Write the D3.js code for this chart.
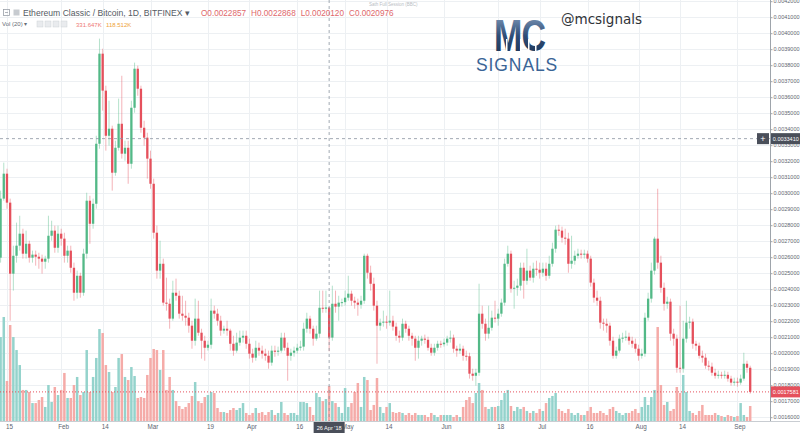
<!DOCTYPE html>
<html>
<head>
<meta charset="utf-8">
<script src="https://cdn.jsdelivr.net/npm/d3@7"></script>
<style>
  body { margin: 0; background: #fff; }
  svg { display: block; font-family: "Liberation Sans", Arial, sans-serif; }
</style>
</head>
<body>
<svg id="canvas" width="800" height="433"></svg>
<script>
/*
 * ETC/BTC daily candles (Bitfinex), 12 Jan 2018 - 5 Sep 2018, drawn with D3.
 */

// ---- data -------------------------------------------------------------
const firstDay = [2018, 0, 12];
const firstOpen = 0.002547;

const closes = [
  0.002597,0.002966,0.003122,0.002941,0.002497,0.002609,0.002672,0.002747,0.002622,0.002684,
  0.002597,0.002616,0.002603,0.002591,0.002572,0.002591,0.002734,0.002766,0.002659,0.002747,
  0.002716,0.002609,0.002641,0.002534,0.002378,0.002484,0.002378,0.002622,0.002953,0.002809,
  0.002934,0.003309,0.003872,0.003641,0.003359,0.003403,0.003128,0.003284,0.003434,0.003247,
  0.003284,0.003184,0.003534,0.003778,0.003653,0.003409,0.003347,0.003216,0.003059,0.002753,
  0.002516,0.002559,0.002316,0.002309,0.002216,0.002378,0.002359,0.002247,0.002234,0.002222,
  0.002172,0.002078,0.002216,0.002128,0.002078,0.002034,0.002053,0.002266,0.002247,0.002203,
  0.002141,0.002153,0.002141,0.002059,0.002016,0.002066,0.002097,0.002109,0.002059,0.001997,
  0.001972,0.002034,0.002016,0.001997,0.001984,0.001941,0.002016,0.002009,0.002016,0.002097,
  0.002034,0.001984,0.002003,0.002016,0.002034,0.002041,0.002153,0.002216,0.002153,0.002091,
  0.002122,0.002284,0.002278,0.0022857,0.0020976,0.002309,0.002291,0.002316,0.002319,0.002347,
  0.002372,0.002328,0.002316,0.002303,0.002328,0.002609,0.002503,0.002434,0.002297,0.002172,
  0.002191,0.002197,0.002191,0.002203,0.002166,0.002109,0.002097,0.002184,0.002153,0.002109,
  0.002091,0.002034,0.002078,0.002091,0.002084,0.002034,0.002003,0.002034,0.002059,0.002056,
  0.002066,0.002091,0.002097,0.002028,0.002016,0.002028,0.001984,0.001981,0.001872,0.001859,
  0.001878,0.002247,0.002184,0.002122,0.002159,0.002222,0.002216,0.002247,0.002316,0.002559,
  0.002622,0.002403,0.002409,0.002422,0.002534,0.002453,0.002516,0.002472,0.002528,0.002522,
  0.002503,0.002528,0.002484,0.002559,0.002653,0.002772,0.002766,0.002722,0.002716,0.002559,
  0.002578,0.002609,0.002622,0.002616,0.002622,0.002591,0.002441,0.002347,0.002328,0.002191,
  0.002184,0.002172,0.002078,0.001984,0.002016,0.002091,0.002097,0.002103,0.002078,0.002059,
  0.002028,0.001984,0.001997,0.002222,0.002341,0.002516,0.002716,0.002566,0.002409,0.002309,
  0.002322,0.002122,0.002091,0.001909,0.001903,0.002091,0.002191,0.002197,0.002059,0.002047,
  0.001984,0.001972,0.001922,0.001916,0.001878,0.001859,0.001865,0.001859,0.001865,0.001841,
  0.001816,0.001822,0.001816,0.001841,0.001934,0.001909,0.0017581
];

const highs = [
  0.002641,0.003016,0.003191,0.003153,0.002966,0.002672,0.002816,0.002859,0.002778,0.002766,
  0.002703,0.002641,0.002641,0.002628,0.002616,0.002609,0.002859,0.002828,0.002797,0.002797,
  0.002778,0.002753,0.002672,0.002672,0.002566,0.002516,0.002503,0.002653,0.003003,0.002984,
  0.002966,0.003359,0.003966,0.003903,0.003672,0.003578,0.003422,0.003328,0.003591,0.003734,
  0.003328,0.003328,0.003578,0.003816,0.003797,0.003672,0.003453,0.003378,0.003266,0.003091,
  0.002797,0.002703,0.002591,0.002472,0.002341,0.002453,0.002466,0.002391,0.002359,0.002328,
  0.002253,0.002203,0.002341,0.002328,0.002153,0.002109,0.002078,0.002341,0.002297,0.002278,
  0.002234,0.002172,0.002203,0.002153,0.002109,0.002128,0.002141,0.002141,0.002141,0.002091,
  0.002028,0.002078,0.002066,0.002047,0.002028,0.002016,0.002047,0.002047,0.002041,0.002128,
  0.002128,0.002066,0.002028,0.002041,0.002059,0.002078,0.002191,0.002253,0.002234,0.002172,
  0.002172,0.002391,0.002391,0.002391,0.0022868,0.002422,0.002391,0.002359,0.002341,0.002391,
  0.002484,0.002391,0.002353,0.002341,0.002359,0.002622,0.002622,0.002547,0.002472,0.002328,
  0.002216,0.002266,0.002234,0.002391,0.002234,0.002191,0.002141,0.002216,0.002203,0.002172,
  0.002128,0.002109,0.002109,0.002109,0.002116,0.002103,0.002059,0.002059,0.002078,0.002078,
  0.002091,0.002109,0.002141,0.002116,0.002047,0.002059,0.002047,0.002016,0.002003,0.001903,
  0.001903,0.002434,0.002297,0.002216,0.002297,0.002266,0.002328,0.002278,0.002341,0.002591,
  0.002672,0.002641,0.002453,0.002466,0.002566,0.002566,0.002653,0.002547,0.002566,0.002578,
  0.002566,0.002566,0.002566,0.002609,0.002691,0.002797,0.002803,0.002791,0.002778,0.002753,
  0.002734,0.002641,0.002653,0.002647,0.002647,0.002641,0.002609,0.002466,0.002391,0.002353,
  0.002216,0.002216,0.002191,0.002103,0.002041,0.002116,0.002128,0.002141,0.002128,0.002103,
  0.002091,0.002053,0.002028,0.002253,0.002378,0.002566,0.002728,0.003028,0.002609,0.002441,
  0.002353,0.002341,0.002153,0.002116,0.002297,0.002203,0.002328,0.002228,0.002216,0.002078,
  0.002066,0.002016,0.001997,0.001953,0.001941,0.001903,0.001891,0.001884,0.001891,0.001884,
  0.001859,0.001847,0.001847,0.001866,0.002003,0.001953,0.001922
];

const lows = [
  0.002503,0.002566,0.002953,0.002903,0.002203,0.002391,0.002566,0.002641,0.002591,0.002591,
  0.002566,0.002566,0.002547,0.002528,0.002497,0.002528,0.002566,0.002703,0.002628,0.002628,
  0.002672,0.002566,0.002566,0.002503,0.002328,0.002341,0.002347,0.002359,0.002591,0.002684,
  0.002778,0.002903,0.003278,0.003516,0.003266,0.003297,0.003016,0.003109,0.003266,0.003216,
  0.003203,0.003059,0.003153,0.003503,0.003609,0.003378,0.003297,0.003091,0.003028,0.002716,
  0.002466,0.002466,0.002297,0.002266,0.002153,0.002203,0.002328,0.002216,0.002203,0.002172,
  0.002128,0.002028,0.002047,0.002109,0.001966,0.001953,0.002016,0.002028,0.002216,0.002172,
  0.002109,0.002122,0.002109,0.002016,0.001984,0.002003,0.002047,0.002066,0.002028,0.001966,
  0.001941,0.001953,0.001984,0.001966,0.001953,0.001903,0.001922,0.001978,0.001984,0.002003,
  0.002016,0.001828,0.001953,0.001978,0.001997,0.002016,0.002016,0.002128,0.002122,0.002047,
  0.002078,0.002097,0.002253,0.002253,0.0020120,0.002078,0.002253,0.002203,0.002291,0.002297,
  0.002328,0.002297,0.002278,0.002234,0.002278,0.002309,0.002466,0.002391,0.002266,0.001934,
  0.002141,0.002166,0.002153,0.002172,0.002141,0.002078,0.002066,0.002078,0.002128,0.002078,
  0.002047,0.001953,0.001966,0.002047,0.002059,0.002016,0.001984,0.001984,0.002016,0.002034,
  0.002041,0.002047,0.002066,0.002003,0.001978,0.001997,0.001953,0.001953,0.001841,0.001828,
  0.001797,0.001859,0.002153,0.002078,0.002091,0.002141,0.002191,0.002172,0.002228,0.002297,
  0.002541,0.002378,0.002278,0.002359,0.002391,0.002341,0.002428,0.002453,0.002441,0.002484,
  0.002466,0.002478,0.002453,0.002466,0.002541,0.002628,0.002734,0.002691,0.002678,0.002503,
  0.002528,0.002553,0.002591,0.002591,0.002591,0.002566,0.002416,0.002316,0.002297,0.002153,
  0.002141,0.002128,0.002047,0.001966,0.001966,0.002003,0.002066,0.002078,0.002053,0.002034,
  0.002003,0.001953,0.001966,0.001978,0.002203,0.002316,0.002491,0.002528,0.002378,0.002266,
  0.002278,0.002078,0.002047,0.001878,0.001878,0.001878,0.002066,0.002153,0.002028,0.002016,
  0.001966,0.001941,0.001903,0.001891,0.001859,0.001841,0.001841,0.001841,0.001841,0.001822,
  0.001797,0.001797,0.001791,0.001803,0.001828,0.001878,0.001747
];

// volume in thousands
const volumesK = [
  663,795,985,379,909,795,672,530,294,294,
  275,170,170,199,227,133,341,180,322,246,
  294,455,218,218,341,417,246,275,672,275,
  417,597,871,833,530,464,275,322,597,634,
  417,388,511,426,218,227,218,436,597,682,
  672,483,672,294,417,294,189,142,114,133,
  170,237,369,189,170,227,246,275,265,123,
  85,85,76,104,123,104,123,170,76,57,
  76,123,76,85,57,85,104,57,76,180,
  76,57,76,76,57,180,180,170,133,57,
  265,227,189,208,331.647,189,170,133,76,312,
  133,170,275,360,133,417,388,104,152,407,
  133,76,133,170,85,76,85,76,57,76,
  57,76,57,57,57,38,76,57,38,57,
  57,57,57,38,57,38,133,199,227,170,
  265,360,294,133,114,133,133,142,199,265,
  294,142,95,133,114,133,95,76,95,76,
  114,95,170,218,237,265,114,95,76,114,
  76,57,76,57,57,95,133,76,76,95,
  76,57,114,133,95,76,57,76,76,95,
  114,76,133,227,152,227,294,890,341,152,
  180,95,114,322,265,436,275,95,76,57,
  95,152,57,57,57,76,57,47,38,57,
  47,38,47,170,57,38,142
];

const timeTickDates = ["2018-01-15","2018-02-01","2018-02-14","2018-03-01","2018-03-19","2018-04-01",
  "2018-04-16","2018-05-01","2018-05-14","2018-06-01","2018-06-18","2018-07-01","2018-07-16",
  "2018-08-01","2018-08-14","2018-09-01"];
const timeTickLabels = ["15","Feb","14","Mar","19","Apr","16","May","14","Jun","18","Jul","16","Aug","14","Sep"];
const priceTicks = d3.range(16, 43).map(v => v / 10000);

const crossDate = "2018-04-26";
const crossPrice = 0.0033410;
const lastPrice = 0.0017581;
const headerOHLC = [["O", "0.0022857"], ["H", "0.0022868"], ["L", "0.0020120"], ["C", "0.0020976"]];
const volLegend = ["331.647K", "118.512K"];

// ---- layout -----------------------------------------------------------
const paneRight = 770;
const paneBottom = 421;
const UP = "#53b987", DOWN = "#e5505c";
const UP_VOL = "#94d3cc", DOWN_VOL = "#f5aba8";

const svg = d3.select("#canvas");
const parse = d3.utcParse("%Y-%m-%d");

const candles = closes.map((c, i) => ({
  date: new Date(Date.UTC(firstDay[0], firstDay[1], firstDay[2] + i)),
  open: i === 0 ? firstOpen : closes[i - 1],
  high: highs[i],
  low: lows[i],
  close: c,
  vol: volumesK[i]
}));

const x = d3.scaleUtc()
  .domain([candles[0].date, candles[candles.length - 1].date])
  .range([-2.6, 750.2]);
const y = d3.scaleLinear().domain([0.0016, 0.0042]).range([417.2, 1.2]);
const yVol = d3.scaleLinear().domain([0, 1000]).range([paneBottom, paneBottom - 105.6]);

const defs = svg.append("defs");
defs.append("clipPath").attr("id", "pane")
  .append("rect").attr("width", paneRight).attr("height", paneBottom);

// grid
const grid = svg.append("g").attr("stroke", "#edf0f3").attr("stroke-width", 1);
grid.selectAll(".hgrid").data(priceTicks).enter().append("line")
  .attr("class", "hgrid")
  .attr("x1", 0).attr("x2", paneRight)
  .attr("y1", d => Math.round(y(d)) + 0.5).attr("y2", d => Math.round(y(d)) + 0.5);
grid.selectAll(".vgrid").data(timeTickDates).enter().append("line")
  .attr("class", "vgrid")
  .attr("y1", 0).attr("y2", paneBottom)
  .attr("x1", d => Math.round(x(parse(d))) + 0.5).attr("x2", d => Math.round(x(parse(d))) + 0.5);

const pane = svg.append("g").attr("clip-path", "url(#pane)");

// volume
pane.append("g").selectAll(".vol").data(candles).enter().append("rect")
  .attr("class", "vol")
  .attr("x", d => x(d.date) - 1.25)
  .attr("width", 2.5)
  .attr("y", d => yVol(d.vol))
  .attr("height", d => paneBottom - yVol(d.vol))
  .attr("fill", d => d.close >= d.open ? UP_VOL : DOWN_VOL);

// wicks
pane.append("g").selectAll(".wick").data(candles).enter().append("line")
  .attr("class", "wick")
  .attr("x1", d => x(d.date)).attr("x2", d => x(d.date))
  .attr("y1", d => y(d.high)).attr("y2", d => y(d.low))
  .attr("stroke", d => d.close >= d.open ? UP : DOWN)
  .attr("stroke-opacity", 0.55)
  .attr("stroke-width", 0.8);

// bodies
pane.append("g").selectAll(".body").data(candles).enter().append("rect")
  .attr("class", "body")
  .attr("x", d => x(d.date) - 1.15)
  .attr("width", 2.3)
  .attr("y", d => y(Math.max(d.open, d.close)))
  .attr("height", d => Math.max(1, Math.abs(y(d.open) - y(d.close))))
  .attr("fill", d => d.close >= d.open ? UP : DOWN);

// last price line
svg.append("line")
  .attr("x1", 0).attr("x2", paneRight)
  .attr("y1", y(lastPrice)).attr("y2", y(lastPrice))
  .attr("stroke", "#e5505c").attr("stroke-width", 1).attr("stroke-dasharray", "1,2");

// crosshair
const cx = x(parse(crossDate));
svg.append("line")
  .attr("x1", cx).attr("x2", cx).attr("y1", 0).attr("y2", paneBottom)
  .attr("stroke", "#8a93a0").attr("stroke-width", 0.8).attr("stroke-dasharray", "3,3");
svg.append("line")
  .attr("x1", 0).attr("x2", paneRight).attr("y1", y(crossPrice)).attr("y2", y(crossPrice))
  .attr("stroke", "#8a93a0").attr("stroke-width", 0.8).attr("stroke-dasharray", "3,3");

// price axis
svg.append("line")
  .attr("x1", paneRight + 0.5).attr("x2", paneRight + 0.5).attr("y1", 0).attr("y2", paneBottom)
  .attr("stroke", "#9ea4ab");
const yAxis = svg.append("g")
  .attr("transform", `translate(${paneRight},0)`)
  .call(d3.axisRight(y).tickValues(priceTicks).tickFormat(d3.format(".7f")).tickSize(2.5).tickPadding(1));
yAxis.select(".domain").remove();
yAxis.selectAll("line").attr("stroke", "#9ea4ab");
yAxis.selectAll("text").attr("font-size", 5.5).attr("fill", "#5d6570");

// time axis
svg.append("line")
  .attr("x1", 0).attr("x2", 800).attr("y1", paneBottom + 0.5).attr("y2", paneBottom + 0.5)
  .attr("stroke", "#c9cdd2");
const xAxis = svg.append("g")
  .attr("transform", `translate(0,${paneBottom})`)
  .call(d3.axisBottom(x).tickValues(timeTickDates.map(parse))
    .tickFormat((d, i) => timeTickLabels[i]).tickSize(0).tickPadding(4));
xAxis.select(".domain").remove();
xAxis.selectAll("text").attr("font-size", 6.3).attr("fill", "#5d6570").attr("dx", 2);

// axis badges for crosshair and last price
function axisBadge(price, fill, label) {
  const g = svg.append("g").attr("transform", `translate(${paneRight + 1},${y(price)})`);
  g.append("rect").attr("x", 0).attr("y", -5.5).attr("width", 29).attr("height", 11).attr("fill", fill);
  g.append("text").attr("x", 1.8).attr("y", 2).attr("font-size", 5.5).attr("fill", "#fff").text(label);
}
axisBadge(crossPrice, "#4a4f5a", d3.format(".7f")(crossPrice));
axisBadge(lastPrice, "#e5505c", d3.format(".7f")(lastPrice));

const plus = svg.append("g").attr("transform", `translate(757,${y(crossPrice)})`);
plus.append("rect").attr("x", 0).attr("y", -5.5).attr("width", 12).attr("height", 11).attr("fill", "#4a4f5a");
plus.append("text").attr("x", 6).attr("y", 3).attr("text-anchor", "middle")
  .attr("font-size", 9).attr("fill", "#fff").text("+");

const dateBadge = svg.append("g").attr("transform", `translate(${cx},${paneBottom + 1})`);
dateBadge.append("rect").attr("x", -15.5).attr("y", 0).attr("width", 31).attr("height", 12).attr("fill", "#4a4f5a");
dateBadge.append("text").attr("x", 0).attr("y", 8.2).attr("text-anchor", "middle")
  .attr("font-size", 5.6).attr("fill", "#fff").text("26 Apr '18");

// header legend
const head = svg.append("g");
head.append("rect").attr("x", 3.5).attr("y", 9.5).attr("width", 6).attr("height", 6)
  .attr("fill", "none").attr("stroke", "#9aa0a8").attr("stroke-width", 0.8);
head.append("line").attr("x1", 5).attr("x2", 8).attr("y1", 12.5).attr("y2", 12.5).attr("stroke", "#9aa0a8").attr("stroke-width", 0.8);
head.append("rect").attr("x", 13.5).attr("y", 9.5).attr("width", 6).attr("height", 6)
  .attr("fill", "#c7cbd0");
head.append("text").attr("x", 23).attr("y", 16).attr("font-size", 8.6).attr("fill", "#555b63")
  .text("Ethereum Classic / Bitcoin, 1D, BITFINEX ▾");
const ohlc = head.append("text").attr("x", 201).attr("y", 16).attr("font-size", 8.2).attr("fill", "#e0686c");
headerOHLC.forEach(([k, v], i) => {
  ohlc.append("tspan").attr("dx", i === 0 ? 0 : 5).text(k + v);
});

head.append("text").attr("x", 2).attr("y", 26).attr("font-size", 6).attr("fill", "#666d75").text("Vol (20) ▾");
[37, 45, 53, 61].forEach(bx => {
  head.append("rect").attr("x", bx).attr("y", 21).attr("width", 6).attr("height", 6)
    .attr("fill", "#e9ebee").attr("stroke", "#cdd1d6").attr("stroke-width", 0.5);
});
head.append("text").attr("x", 76).attr("y", 26.5).attr("font-size", 6).attr("fill", "#ee7a74").text(volLegend[0]);
head.append("text").attr("x", 106).attr("y", 26.5).attr("font-size", 6).attr("fill", "#eea238").text(volLegend[1]);

// faint session label near the top
svg.append("text").attr("x", 369).attr("y", 6).attr("font-size", 4.5).attr("fill", "#b9bdc3")
  .text("Sath Full Session (BBC)");

// watermark
const grad = defs.append("linearGradient").attr("id", "mcgrad")
  .attr("x1", 0).attr("y1", 0).attr("x2", 0).attr("y2", 1);
grad.append("stop").attr("offset", "0%").attr("stop-color", "#8aa2c0");
grad.append("stop").attr("offset", "50%").attr("stop-color", "#2e4d77");
grad.append("stop").attr("offset", "100%").attr("stop-color", "#1b3150");
const logo = svg.append("g");
logo.append("text").attr("transform", "translate(494,51) scale(1,1.28)")
  .attr("font-size", 34).attr("font-weight", "bold")
  .attr("letter-spacing", -3).attr("textLength", 49).attr("fill", "url(#mcgrad)").text("MC");
[506, 513, 520, 528, 535].forEach(bx => {
  logo.append("rect").attr("x", bx).attr("y", 39).attr("width", 1.5).attr("height", 12).attr("fill", "#fff");
});
logo.append("text").attr("x", 476).attr("y", 70.5).attr("font-size", 17.5)
  .attr("letter-spacing", 0.9).attr("fill", "#3a6496").text("SIGNALS");
logo.append("text").attr("x", 561).attr("y", 24).attr("font-size", 13.5)
  .attr("font-family", "DejaVu Sans, sans-serif").attr("fill", "#2f3338").text("@mcsignals");
</script>
</body>
</html>
